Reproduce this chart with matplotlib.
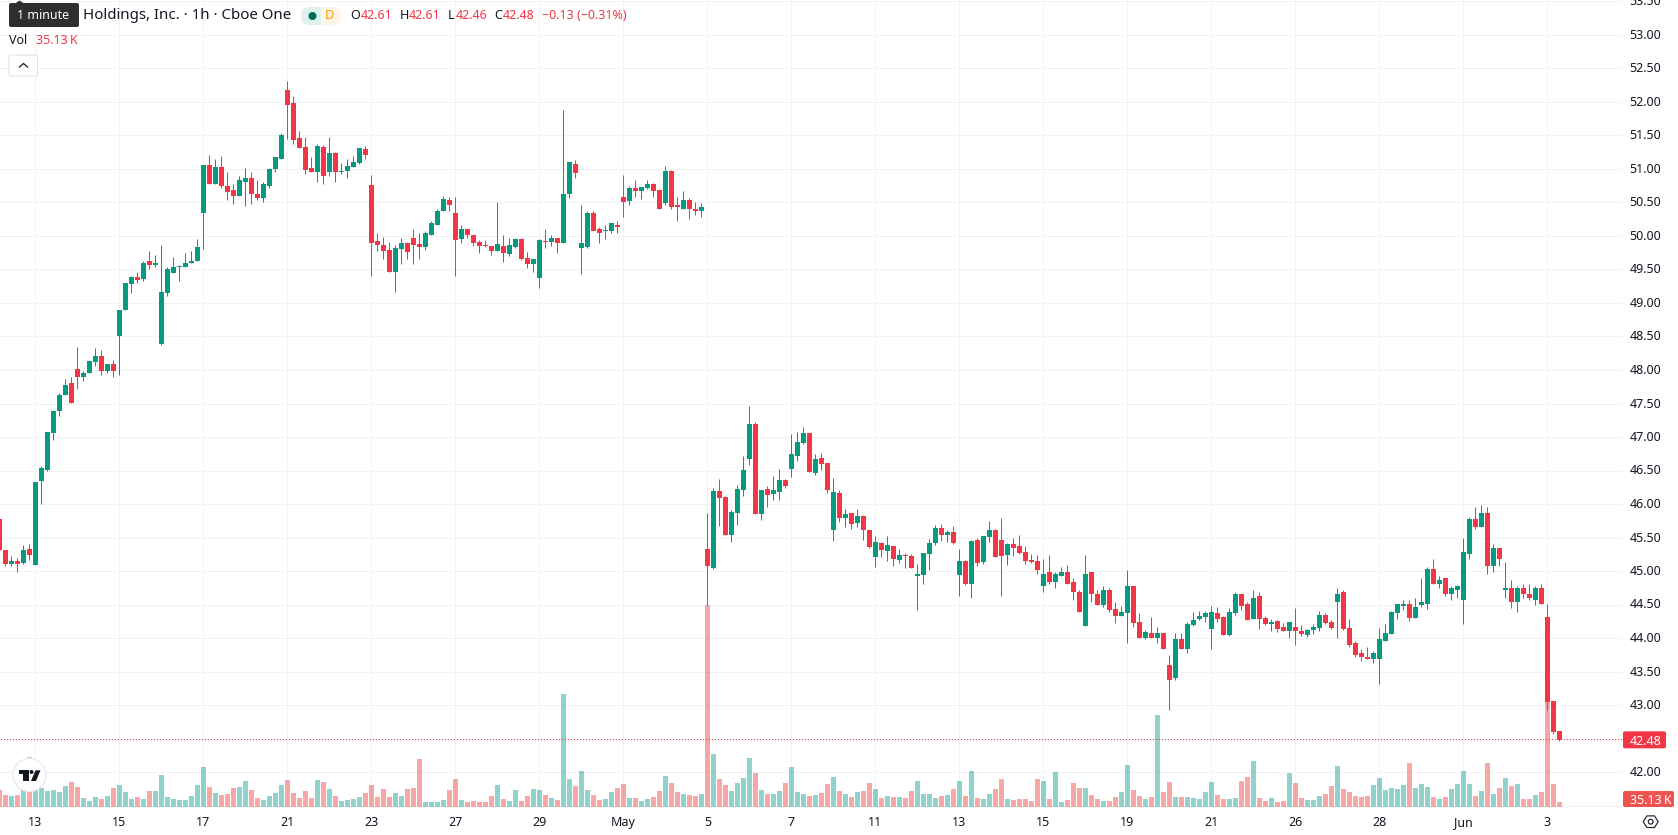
import matplotlib

matplotlib.use("Agg")
import matplotlib.pyplot as plt
from matplotlib.patches import Circle, FancyBboxPatch, Polygon, Rectangle
from matplotlib.transforms import ScaledTranslation

UP = "#089981"
DOWN = "#F23645"
VOL_UP = "#26a69a"
VOL_DOWN = "#ef5350"
INK = "#131722"
GRID = "#f1f2f4"

opens = [
    45.78, 45.32, 45.11, 45.15, 45.12, 45.33, 45.09, 46.35, 46.51, 47.06,
    47.39, 47.62, 47.80, 48.02, 47.89, 47.95, 48.12, 48.21, 47.98, 48.09,
    48.51, 48.89, 49.29, 49.39, 49.36, 49.62, 49.57, 48.39, 49.15, 49.45,
    49.53, 49.53, 49.59, 49.62, 50.35, 51.06, 50.78, 51.03, 50.75, 50.68,
    50.59, 50.81, 50.86, 50.63, 50.56, 50.75, 51.00, 51.15, 52.18, 51.98,
    51.47, 51.33, 51.02, 50.96, 51.33, 50.96, 51.24, 50.96, 50.97, 51.03,
    51.09, 51.30, 50.76, 49.92, 49.86, 49.79, 49.47, 49.80, 49.89, 49.97,
    49.88, 49.83, 50.02, 50.17, 50.37, 50.53, 50.35, 49.95, 50.10, 50.01,
    49.91, 49.86, 49.85, 49.77, 49.85, 49.73, 49.83, 49.95, 49.67, 49.58,
    49.38, 49.92, 49.91, 49.97, 49.89, 50.62, 51.08, 49.82, 49.83, 50.35,
    50.10, 50.07, 50.07, 50.17, 50.58, 50.52, 50.71, 50.67, 50.71, 50.77,
    50.68, 50.49, 50.97, 50.46, 50.41, 50.53, 50.41, 50.38, 45.33, 45.05,
    46.20, 46.11, 45.54, 45.87, 46.21, 46.67, 47.20, 45.85, 46.23, 46.15,
    46.18, 46.36, 46.52, 46.72, 46.91, 47.06, 46.47, 46.69, 46.61, 45.61,
    46.17, 45.79, 45.87, 45.72, 45.82, 45.61, 45.21, 45.42, 45.30, 45.38,
    45.17, 45.24, 45.23, 44.93, 44.94, 45.26, 45.42, 45.64, 45.54, 45.58,
    44.94, 45.15, 44.81, 45.47, 45.14, 45.51, 45.61, 45.47, 45.24, 45.41,
    45.38, 45.29, 45.17, 45.15, 44.78, 44.98, 44.84, 44.93, 44.99, 44.83,
    44.69, 44.18, 44.98, 44.66, 44.50, 44.72, 44.44, 44.33, 44.38, 44.78,
    44.24, 44.00, 44.08, 44.00, 44.08, 43.60, 43.41, 43.99, 43.83, 44.20,
    44.29, 44.32, 44.14, 44.38, 44.32, 44.05, 44.38, 44.65, 44.50, 44.29,
    44.62, 44.30, 44.21, 44.26, 44.17, 44.11, 44.17, 44.11, 44.05, 44.12,
    44.15, 44.35, 44.24, 44.54, 44.68, 44.15, 43.92, 43.77, 43.72, 43.68,
    43.68, 43.96, 44.06, 44.38, 44.48, 44.51, 44.30, 44.50, 44.51, 45.03,
    44.81, 44.89, 44.66, 44.72, 44.56, 45.26, 45.78, 45.66, 45.86, 45.08,
    45.35, 44.72, 44.74, 44.54, 44.74, 44.66, 44.57, 44.75, 44.32, 43.06,
    42.61,
]
highs = [
    45.78, 45.32, 45.23, 45.19, 45.39, 45.41, 46.33, 46.56, 47.08, 47.41,
    47.66, 47.87, 47.89, 48.35, 47.98, 48.15, 48.33, 48.30, 48.09, 48.15,
    48.89, 49.30, 49.41, 49.47, 49.63, 49.78, 49.72, 49.86, 49.54, 49.68,
    49.57, 49.75, 49.78, 49.96, 51.06, 51.21, 51.15, 51.20, 50.95, 50.77,
    50.89, 51.02, 50.95, 50.83, 50.80, 51.02, 51.18, 51.53, 52.32, 52.09,
    51.56, 51.48, 51.18, 51.38, 51.36, 51.48, 51.26, 51.09, 51.15, 51.20,
    51.32, 51.35, 50.91, 50.05, 49.98, 49.91, 49.86, 49.97, 49.91, 50.11,
    50.05, 50.07, 50.22, 50.41, 50.59, 50.58, 50.58, 50.16, 50.11, 50.02,
    49.94, 49.94, 49.85, 50.50, 50.01, 49.97, 49.97, 49.97, 49.76, 49.65,
    49.95, 50.11, 50.01, 49.97, 51.88, 51.10, 51.13, 50.46, 50.38, 50.38,
    50.14, 50.17, 50.20, 50.23, 50.91, 50.74, 50.83, 50.73, 50.83, 50.79,
    50.68, 51.05, 50.98, 50.58, 50.67, 50.56, 50.50, 50.49, 45.87, 46.24,
    46.38, 46.12, 45.91, 46.29, 46.72, 47.47, 47.23, 46.21, 46.27, 46.42,
    46.52, 46.38, 47.05, 47.08, 47.15, 47.06, 46.75, 46.76, 46.61, 46.39,
    46.21, 45.93, 45.87, 45.93, 45.84, 45.61, 45.52, 45.44, 45.52, 45.38,
    45.33, 45.27, 45.26, 45.11, 45.27, 45.48, 45.69, 45.70, 45.61, 45.67,
    45.33, 45.17, 45.47, 45.50, 45.52, 45.75, 45.63, 45.79, 45.42, 45.50,
    45.54, 45.38, 45.26, 45.24, 45.18, 45.24, 44.99, 45.06, 45.09, 44.89,
    44.72, 45.24, 44.98, 44.72, 44.77, 44.74, 44.53, 44.48, 45.02, 44.78,
    44.38, 44.12, 44.32, 44.17, 44.08, 43.74, 44.08, 44.08, 44.24, 44.39,
    44.41, 44.41, 44.48, 44.47, 44.33, 44.45, 44.69, 44.65, 44.53, 44.72,
    44.68, 44.33, 44.29, 44.27, 44.23, 44.24, 44.45, 44.20, 44.14, 44.21,
    44.41, 44.38, 44.27, 44.74, 44.71, 44.29, 43.96, 43.84, 43.86, 43.80,
    44.15, 44.21, 44.41, 44.50, 44.56, 44.56, 44.59, 44.90, 45.06, 45.18,
    44.92, 44.90, 44.78, 44.79, 45.50, 45.80, 45.95, 45.99, 45.95, 45.41,
    45.35, 45.14, 44.87, 44.78, 44.80, 44.80, 44.78, 44.80, 44.51, 43.06,
    42.61,
]
lows = [
    45.31, 45.07, 45.08, 44.99, 45.11, 45.17, 45.09, 46.00, 46.50, 46.96,
    47.32, 47.62, 47.51, 47.72, 47.84, 47.95, 48.06, 47.93, 47.96, 47.90,
    47.93, 48.89, 49.15, 49.30, 49.33, 49.51, 49.54, 48.38, 49.11, 49.45,
    49.33, 49.53, 49.59, 49.62, 49.81, 50.78, 50.78, 50.72, 50.53, 50.48,
    50.59, 50.45, 50.48, 50.53, 50.51, 50.72, 50.95, 51.15, 51.45, 51.38,
    51.32, 50.92, 50.95, 50.80, 50.78, 50.89, 50.80, 50.92, 50.87, 51.03,
    51.08, 51.15, 49.40, 49.77, 49.65, 49.46, 49.17, 49.58, 49.65, 49.58,
    49.65, 49.79, 50.01, 50.17, 50.37, 50.37, 49.40, 49.89, 49.97, 49.85,
    49.74, 49.83, 49.71, 49.77, 49.61, 49.70, 49.82, 49.64, 49.52, 49.46,
    49.23, 49.82, 49.85, 49.74, 49.89, 50.56, 50.86, 49.44, 49.82, 50.08,
    49.89, 49.95, 50.04, 50.04, 50.29, 50.47, 50.58, 50.55, 50.70, 50.58,
    50.41, 50.47, 50.41, 50.23, 50.40, 50.26, 50.31, 50.29, 44.50, 45.03,
    45.67, 45.54, 45.44, 45.69, 46.12, 46.58, 45.85, 45.76, 45.96, 46.06,
    46.06, 46.24, 46.41, 46.64, 46.90, 46.48, 46.44, 46.51, 46.17, 45.45,
    45.73, 45.66, 45.63, 45.66, 45.47, 45.35, 45.06, 45.21, 45.15, 45.08,
    45.12, 45.05, 45.05, 44.42, 44.81, 45.02, 45.39, 45.45, 45.44, 45.41,
    44.63, 44.79, 44.60, 45.08, 45.11, 45.44, 45.21, 44.63, 45.09, 45.23,
    45.26, 45.11, 45.12, 44.96, 44.68, 44.81, 44.75, 44.92, 44.81, 44.56,
    44.39, 44.18, 44.54, 44.50, 44.47, 44.39, 44.23, 44.33, 43.92, 44.17,
    44.00, 43.98, 44.00, 43.93, 43.83, 42.93, 43.38, 43.83, 43.78, 44.18,
    44.27, 44.24, 43.84, 44.24, 44.05, 44.03, 44.35, 44.42, 44.27, 44.29,
    44.14, 44.20, 44.11, 44.09, 44.11, 44.00, 43.89, 44.03, 44.02, 44.06,
    44.11, 44.21, 44.14, 44.00, 44.12, 43.87, 43.72, 43.65, 43.68, 43.63,
    43.32, 43.95, 44.06, 44.29, 44.42, 44.26, 44.30, 44.47, 44.44, 44.81,
    44.74, 44.63, 44.56, 44.59, 44.21, 45.18, 45.63, 45.66, 44.95, 44.99,
    45.08, 44.60, 44.45, 44.39, 44.60, 44.57, 44.50, 44.51, 42.93, 42.57,
    42.46,
]
closes = [
    45.31, 45.11, 45.15, 45.11, 45.32, 45.24, 46.33, 46.54, 47.08, 47.39,
    47.63, 47.78, 47.51, 47.89, 47.96, 48.14, 48.21, 47.98, 48.09, 47.99,
    48.89, 49.30, 49.39, 49.35, 49.60, 49.57, 49.59, 49.17, 49.51, 49.53,
    49.54, 49.60, 49.63, 49.83, 51.06, 50.78, 51.03, 50.74, 50.66, 50.59,
    50.83, 50.86, 50.63, 50.56, 50.77, 51.00, 51.18, 51.50, 51.96, 51.44,
    51.32, 50.99, 50.95, 51.35, 50.90, 51.24, 50.96, 50.97, 51.05, 51.11,
    51.32, 51.21, 49.89, 49.87, 49.77, 49.47, 49.82, 49.89, 49.76, 49.86,
    49.83, 50.04, 50.19, 50.38, 50.55, 50.46, 49.94, 50.11, 50.01, 49.89,
    49.85, 49.85, 49.77, 49.88, 49.74, 49.86, 49.95, 49.65, 49.58, 49.65,
    49.94, 49.91, 49.97, 49.89, 50.62, 51.10, 50.94, 49.89, 50.35, 50.08,
    50.05, 50.08, 50.19, 50.14, 50.50, 50.71, 50.67, 50.73, 50.77, 50.67,
    50.41, 50.97, 50.44, 50.44, 50.53, 50.40, 50.38, 50.43, 45.08, 46.20,
    46.09, 45.54, 45.88, 46.23, 46.50, 47.20, 45.85, 46.21, 46.14, 46.21,
    46.36, 46.27, 46.75, 46.93, 47.06, 46.48, 46.67, 46.60, 46.21, 46.18,
    45.79, 45.85, 45.70, 45.82, 45.61, 45.36, 45.44, 45.32, 45.39, 45.18,
    45.24, 45.23, 45.05, 44.96, 45.27, 45.42, 45.64, 45.54, 45.58, 45.42,
    45.15, 44.81, 45.45, 45.12, 45.52, 45.61, 45.21, 45.23, 45.41, 45.35,
    45.27, 45.15, 45.14, 45.02, 44.96, 44.83, 44.96, 44.99, 44.81, 44.68,
    44.39, 44.96, 44.65, 44.50, 44.72, 44.42, 44.33, 44.39, 44.77, 44.23,
    44.00, 44.09, 44.00, 44.08, 43.83, 43.38, 43.99, 43.83, 44.21, 44.27,
    44.33, 44.38, 44.39, 44.29, 44.05, 44.39, 44.65, 44.48, 44.27, 44.60,
    44.29, 44.21, 44.24, 44.14, 44.11, 44.24, 44.11, 44.06, 44.12, 44.17,
    44.35, 44.23, 44.15, 44.66, 44.14, 43.90, 43.75, 43.71, 43.68, 43.77,
    43.99, 44.08, 44.39, 44.50, 44.51, 44.30, 44.47, 44.54, 45.03, 44.81,
    44.87, 44.66, 44.74, 44.77, 45.29, 45.78, 45.66, 45.86, 45.08, 45.35,
    45.18, 44.74, 44.53, 44.74, 44.65, 44.59, 44.74, 44.51, 43.05, 42.60,
    42.48,
]
# volume in thousands of shares
volumes = [
    119, 84, 77, 84, 119, 351, 126, 133, 112, 119,
    105, 148, 176, 141, 63, 42, 70, 56, 77, 133,
    155, 105, 56, 70, 56, 112, 112, 225, 70, 56,
    49, 49, 77, 155, 281, 141, 98, 84, 91, 133,
    141, 183, 119, 63, 49, 77, 98, 155, 190, 98,
    63, 112, 63, 190, 176, 126, 77, 42, 49, 56,
    70, 98, 155, 70, 126, 70, 98, 77, 126, 133,
    337, 35, 35, 35, 49, 119, 197, 49, 35, 42,
    35, 35, 77, 155, 56, 42, 119, 42, 77, 126,
    119, 84, 63, 49, 794, 197, 148, 253, 119, 84,
    49, 56, 105, 133, 162, 63, 63, 42, 56, 70,
    112, 218, 169, 105, 91, 84, 77, 91, 1422, 372,
    197, 155, 112, 169, 204, 344, 239, 119, 91, 91,
    112, 169, 281, 105, 91, 77, 84, 98, 162, 211,
    112, 91, 70, 105, 112, 169, 126, 63, 77, 70,
    70, 63, 112, 183, 91, 91, 63, 77, 84, 126,
    183, 77, 253, 63, 56, 91, 126, 197, 56, 49,
    56, 56, 42, 197, 183, 56, 246, 35, 49, 169,
    133, 133, 84, 56, 42, 42, 70, 105, 295, 119,
    77, 56, 70, 646, 105, 176, 70, 70, 70, 63,
    56, 105, 176, 84, 56, 56, 63, 183, 211, 323,
    63, 42, 63, 35, 42, 239, 169, 63, 49, 49,
    77, 91, 148, 288, 126, 105, 77, 70, 77, 155,
    204, 119, 133, 126, 155, 309, 133, 162, 141, 70,
    56, 70, 126, 162, 253, 162, 77, 112, 309, 91,
    133, 204, 148, 162, 56, 56, 84, 105, 738, 162,
    35.13,
]

date_ticks = [6 + 14 * n for n in range(19)]
date_labels = ["13", "15", "17", "21", "23", "27", "29", "May", "5", "7",
               "11", "13", "15", "19", "21", "26", "28", "Jun", "3"]
price_ticks = [41.5 + 0.5 * n for n in range(25)]

W, H = 1678, 835
PLOT_R, PLOT_B = 1622, 807


def px(size):
    # font sizes below are given in pixels
    return size * 72 / 100


plt.rcParams["font.family"] = ["Noto Sans", "DejaVu Sans"]
fig = plt.figure(figsize=(W / 100, H / 100), dpi=100)
rect = [0, 1 - PLOT_B / H, PLOT_R / W, PLOT_B / H]

ax = fig.add_axes(rect, zorder=0)
ax_vol = fig.add_axes(rect, zorder=1, sharex=ax)
ax_candles = fig.add_axes(rect, zorder=2, sharex=ax, sharey=ax)
ax.set_xlim(0.5 / 6, (PLOT_R + 0.5) / 6)
ax.set_ylim(42 - 35 / 67, 42 + 772 / 67)
ax_vol.set_ylim(0, PLOT_B * 7.026)
ax_vol.axis("off")
ax_candles.axis("off")

for spine in ax.spines.values():
    spine.set_visible(False)
ax.yaxis.tick_right()
ax.set_yticks(price_ticks)
# 41.50 and 42.50 sit behind the value tags
ax.set_yticklabels(["" if p in (41.5, 42.5) else f"{p:.2f}" for p in price_ticks])
ax.set_xticks(date_ticks)
ax.set_xticklabels(date_labels)
ax.tick_params(length=0, labelsize=px(12.5), labelcolor=INK)
ax.tick_params(axis="y", pad=5.5)
ax.tick_params(axis="x", pad=6.7)
for label in ax.get_xticklabels():
    if label.get_text() in ("May", "Jun"):
        label.set_fontweight("bold")
nudge_up = ScaledTranslation(0, 1 / 100, fig.dpi_scale_trans)
for label in ax.get_yticklabels():
    label.set_transform(label.get_transform() + nudge_up)
ax.grid(True, color=GRID, linewidth=0.72)
ax.set_axisbelow(True)

idx = list(range(len(closes)))
rising = [c >= o for o, c in zip(opens, closes)]
candle_colors = [UP if r else DOWN for r in rising]
vol_colors = [VOL_UP if r else VOL_DOWN for r in rising]

ax_vol.bar(idx, volumes, width=5 / 6, color=vol_colors, alpha=0.5, linewidth=0)

ax_candles.vlines(idx, lows, highs, colors=candle_colors, linewidth=0.72)
ax_candles.bar(
    idx,
    [max(abs(c - o), 0.015) for o, c in zip(opens, closes)],
    bottom=[min(o, c) for o, c in zip(opens, closes)],
    width=5 / 6,
    color=candle_colors,
    linewidth=0,
)

# overlay in pixel coordinates for the legend, tags and buttons
over = fig.add_axes([0, 0, 1, 1], zorder=3)
over.set_xlim(0, W)
over.set_ylim(H, 0)
over.axis("off")


def tag(x0, x1, y0, y1, color, text):
    over.add_patch(FancyBboxPatch((x0 + 2, y0 + 2), x1 - x0 - 4, y1 - y0 - 4,
                                  boxstyle="round,pad=2", fc=color, ec="none"))
    over.text(1630, (y0 + y1) / 2, text, color="white", fontsize=px(12.5),
              ha="left", va="center_baseline")


fig.canvas.draw()
close_y = H - ax.transData.transform((0, closes[-1]))[1]

# last price marker: single pixels every third column stay crisp, dashes smear
dot_xs = list(range(1, PLOT_R, 3))
over.plot(dot_xs, [close_y] * len(dot_xs), linestyle="none", marker=",", color=DOWN)

tag(1623, 1666, close_y - 8.5, close_y + 8.5, DOWN, f"{closes[-1]:.2f}")
tag(1623, 1674, 791, 807, VOL_DOWN, f"{volumes[-1]:.2f}\u2009K")

# chart settings gear
cx, cy = 1650.7, 821.7
over.add_patch(Polygon([(cx - 7.5, cy), (cx - 3.8, cy - 5.8), (cx + 3.8, cy - 5.8),
                        (cx + 7.5, cy), (cx + 3.8, cy + 5.8), (cx - 3.8, cy + 5.8)],
                       closed=True, fc="none", ec=INK, lw=0.8))
over.add_patch(Circle((cx, cy), 2.4, fc="none", ec=INK, lw=0.8))

# legend rows
TOOLTIP = "#2e2e2e"
over.add_patch(FancyBboxPatch((11, 5), 66, 20, boxstyle="round,pad=2",
                              fc=TOOLTIP, ec="none"))
over.add_patch(Polygon([(15, 3.5), (19.5, 0.5), (24, 3.5)], closed=True, fc=TOOLTIP, ec="none"))
over.text(43, 15.5, "1 minute", color="white", fontsize=px(12.5), ha="center", va="center")

over.text(83, 15.5, "Holdings, Inc. · 1h · Cboe One", color=INK, fontsize=px(15),
          ha="left", va="center")

# market status pill, teal half clipped from the full shape
over.add_patch(FancyBboxPatch((301, 7), 40, 18, boxstyle="round,pad=0,rounding_size=9",
                              fc="#fff6ea", ec="none"))
teal_half = FancyBboxPatch((301, 7), 40, 18, boxstyle="round,pad=0,rounding_size=9",
                           fc="#dbf1ed", ec="none")
over.add_patch(teal_half)
teal_half.set_clip_path(Rectangle((301, 7), 20, 18, transform=over.transData))
over.add_patch(Circle((312.5, 16), 4, fc="#00695c", ec="none"))
over.text(330, 15.5, "D", color="#ff9800", fontsize=px(13), fontweight="bold",
          ha="center", va="center")

ohlc_parts = [
    (350, "O", INK), (361, f"{opens[-1]:.2f}", DOWN),
    (399.5, "H", INK), (409, f"{highs[-1]:.2f}", DOWN),
    (448, "L", INK), (455.5, f"{lows[-1]:.2f}", DOWN),
    (494.5, "C", INK), (503, f"{closes[-1]:.2f}", DOWN),
    (542, "\u22120.13 (\u22120.31%)", DOWN),
]
for x, text, color in ohlc_parts:
    over.text(x, 15.5, text, color=color, fontsize=px(12.5), ha="left", va="center")

over.text(9, 40.5, "Vol", color=INK, fontsize=px(12.5), ha="left", va="center")
over.text(36.5, 40.5, f"{volumes[-1]:.2f}\u2009K", color=DOWN, fontsize=px(12.5), ha="left", va="center")

# collapse button
over.add_patch(FancyBboxPatch((11, 57), 24.5, 17, boxstyle="round,pad=2",
                              fc="white", ec="#e0e3eb", lw=0.72))
over.plot([19.5, 23.5, 27.5], [67, 63.5, 67], color=INK, lw=0.9)

# attribution badge
over.add_patch(Circle((29.5, 775), 16.5, fc="white", ec="#ececec", lw=1))
logo = "#131722"
over.add_patch(Polygon([(19, 770.3), (29.3, 770.3), (29.3, 781), (23.3, 781), (23.3, 774.3), (19, 774.3)],
                       closed=True, fc=logo, ec="none"))
over.add_patch(Circle((31.5, 772), 2, fc=logo, ec="none"))
over.add_patch(Polygon([(35.5, 770.3), (40.5, 770.3), (36, 781), (31, 781)], closed=True, fc=logo, ec="none"))

fig.savefig("out.png", dpi=100)
